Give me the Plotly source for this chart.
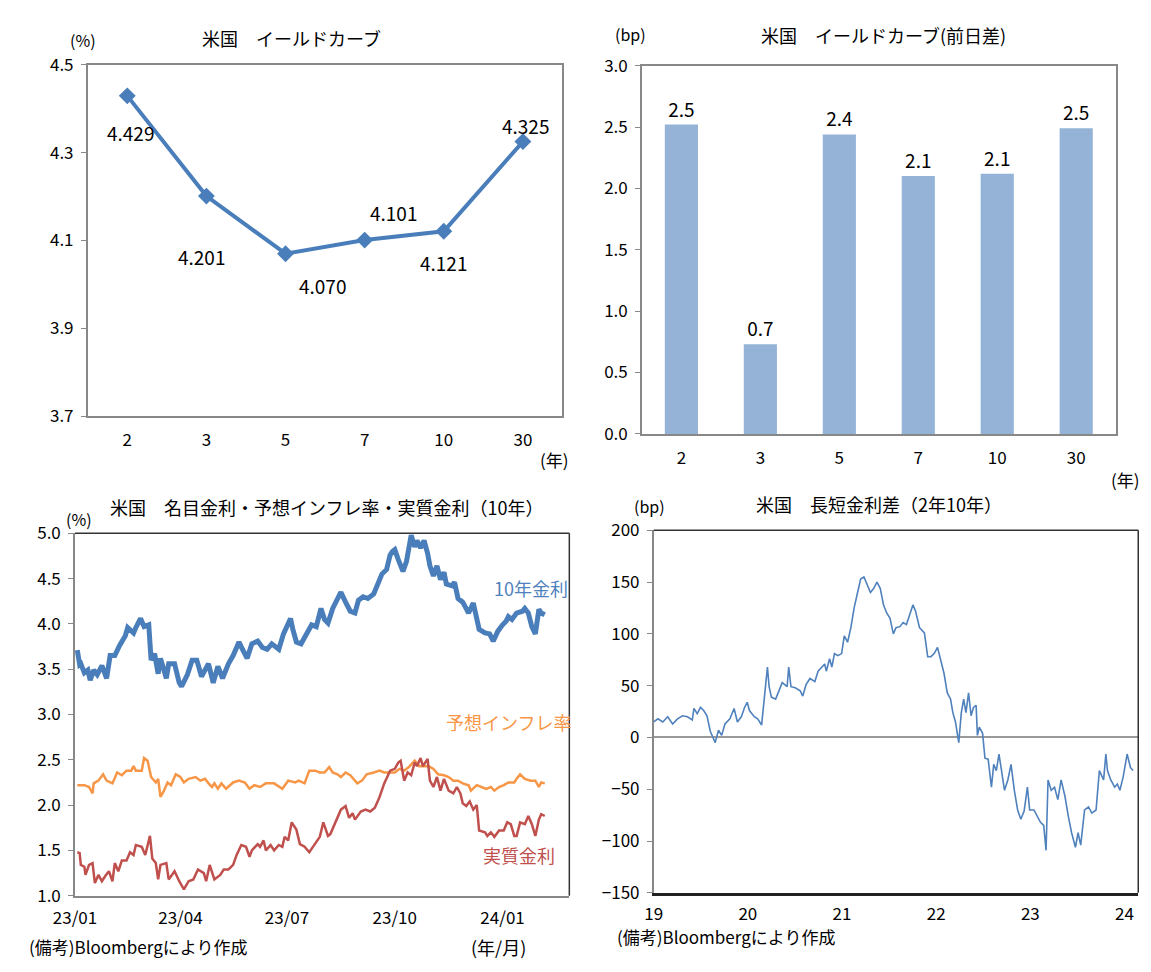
import pandas as pd
import plotly.graph_objects as go

# ---------------- data ----------------
# Top-left: US yield curve (%)
maturities = ["2", "3", "5", "7", "10", "30"]
yields = [4.429, 4.201, 4.070, 4.101, 4.121, 4.325]

# Top-right: change from previous day (bp)
changes_bp = [2.52, 0.73, 2.44, 2.10, 2.12, 2.49]

# Bottom-left: 10y nominal / breakeven / real (days since 2023-01-01)
nom_days = [2, 4, 5, 8, 11, 13, 16, 19, 23, 27, 30, 34, 38, 43, 45, 50, 52, 56, 59, 63,
            65, 68, 71, 73, 78, 80, 85, 89, 91, 96, 100, 104, 108, 114, 118, 122, 126, 131,
            135, 140, 143, 147, 151, 156, 160, 164, 168, 174, 178, 184, 186, 189, 193, 198,
            202, 206, 210, 213, 216, 220, 224, 227, 231, 235, 239, 242, 246, 250, 255, 259,
            262, 266, 269, 271, 273, 276, 280, 283, 287, 290, 292, 295, 298, 301, 303, 306,
            309, 312, 315, 317, 322, 324, 327, 331, 336, 340, 343, 345, 350, 354, 357, 361,
            365, 368, 370, 373, 377, 382, 384, 387, 390, 393, 396, 398, 401]
nom_vals = [3.71, 3.55, 3.56, 3.46, 3.49, 3.38, 3.49, 3.44, 3.54, 3.40, 3.65, 3.65, 3.76, 3.87,
            3.96, 3.90, 3.96, 4.06, 3.97, 3.99, 3.60, 3.67, 3.45, 3.62, 3.40, 3.56, 3.56, 3.35,
            3.31, 3.44, 3.60, 3.60, 3.42, 3.56, 3.35, 3.53, 3.40, 3.56,
            3.65, 3.80, 3.72, 3.62, 3.78, 3.81, 3.74, 3.72, 3.78, 3.72, 3.89, 4.06, 3.94, 3.80,
            3.78, 3.89, 3.99, 3.97, 4.17, 4.05, 4.01, 4.17, 4.26, 4.35, 4.24, 4.14, 4.12, 4.26,
            4.30, 4.28, 4.33, 4.46, 4.55, 4.60, 4.76, 4.80, 4.82, 4.71, 4.58, 4.69, 4.98, 4.85,
            4.92, 4.84, 4.92, 4.78, 4.64, 4.53, 4.64, 4.49, 4.57, 4.44, 4.42, 4.46, 4.28, 4.24,
            4.12, 4.23, 4.06, 3.94, 3.90, 3.89, 3.81, 3.92, 3.99, 4.03, 4.08, 4.05, 4.12, 4.14,
            4.17, 4.12, 3.97, 3.89, 4.16, 4.12, 4.10]

bei_days = [2, 8, 12, 15, 16, 20, 24, 27, 32, 36, 40, 44, 48, 50, 52, 57, 59, 62, 65, 69,
            71, 73, 76, 79, 82, 86, 90, 93, 97, 103, 107, 111, 114, 117, 119, 122, 125, 129,
            135, 140, 145, 149, 153, 158, 163, 170, 177, 182, 188, 191, 196, 200, 205, 209,
            213, 217, 220, 224, 227, 231, 235, 241, 245, 249, 255, 260, 264, 269,
            273, 277, 281, 285, 290, 294, 298, 302, 306, 310, 315, 319, 323, 327, 331, 336,
            338, 343, 347, 351, 355, 358, 362, 366, 370, 375, 377, 380, 384, 389, 393, 396,
            398, 401]
bei_vals = [2.22, 2.22, 2.20, 2.13, 2.24, 2.27, 2.34, 2.27, 2.24, 2.36, 2.33, 2.38, 2.38, 2.43,
            2.38, 2.38, 2.52, 2.49, 2.31, 2.25, 2.29, 2.09, 2.16, 2.25, 2.22, 2.34, 2.31, 2.25,
            2.29, 2.31, 2.27, 2.29, 2.24, 2.20, 2.24, 2.18, 2.24, 2.18,
            2.25, 2.27, 2.25, 2.18, 2.22, 2.20, 2.24, 2.24, 2.18, 2.27, 2.25, 2.27, 2.24, 2.38,
            2.38, 2.36, 2.36, 2.42, 2.36, 2.34, 2.31, 2.36, 2.33, 2.24, 2.27, 2.34, 2.36, 2.38,
            2.36, 2.36,
            2.36, 2.40, 2.38, 2.42, 2.49, 2.43, 2.43, 2.43, 2.40, 2.34, 2.33, 2.31, 2.27, 2.27,
            2.24, 2.22, 2.16, 2.22, 2.20, 2.18, 2.20, 2.16, 2.20, 2.22, 2.25, 2.25, 2.29, 2.34,
            2.29, 2.27, 2.27, 2.20, 2.25, 2.24]

real_days = [2, 4, 5, 8, 9, 12, 15, 17, 20, 23, 26, 29, 32, 34, 37, 40, 44, 47, 50, 52,
             57, 60, 64, 66, 69, 71, 73, 78, 80, 85, 89, 93, 97, 101, 105, 110, 112, 115,
             119, 124, 127, 131,
             135, 138, 142, 146, 149, 151, 156, 158, 161, 163, 167, 170, 174, 177, 179, 182,
             185, 189, 192, 196, 200, 205, 209, 212, 216, 218, 223, 227, 231, 234, 237, 239,
             244, 248, 252, 256, 260, 264, 269,
             273, 276, 278, 281, 284, 287, 290, 292, 295, 297, 301, 303, 306, 309, 312, 315,
             319, 323, 326, 329, 331, 334, 337, 340, 343, 345, 350, 352, 355, 358, 362, 366,
             369, 372, 375, 377, 380, 384, 387, 390, 393, 396, 398, 401]
real_vals = [1.48, 1.47, 1.34, 1.32, 1.23, 1.34, 1.36, 1.14, 1.23, 1.16, 1.22, 1.27, 1.16, 1.36,
             1.27, 1.39, 1.39, 1.48, 1.45, 1.56, 1.54, 1.45, 1.66, 1.41, 1.36, 1.18, 1.34, 1.36,
             1.18, 1.27, 1.16, 1.07, 1.16, 1.18, 1.29, 1.25, 1.16, 1.34, 1.18, 1.23, 1.29, 1.29,
             1.34, 1.45, 1.56, 1.54, 1.43, 1.50, 1.57, 1.54, 1.61, 1.50, 1.56, 1.50, 1.56, 1.54,
             1.65, 1.61, 1.81, 1.73, 1.57, 1.54, 1.48, 1.57, 1.65, 1.81, 1.66, 1.68, 1.82, 1.95,
             1.99, 1.86, 1.91, 1.84, 1.93, 1.95, 1.93, 1.97, 2.09, 2.24, 2.38,
             2.40, 2.47, 2.49, 2.27, 2.36, 2.33, 2.47, 2.43, 2.52, 2.43, 2.51, 2.27, 2.20, 2.31,
             2.16, 2.29, 2.16, 2.13, 2.20, 2.13, 2.02, 1.99, 2.04, 1.95, 2.00, 1.72, 1.70, 1.66,
             1.70, 1.65, 1.72, 1.72, 1.81, 1.79, 1.66, 1.66, 1.81, 1.79, 1.88, 1.79, 1.66, 1.84,
             1.90, 1.88]

# Bottom-right: 2y-10y spread (bp); x = year (19 = 2019)
spread_years = [19.000, 19.045, 19.097, 19.149, 19.201, 19.253, 19.306, 19.358, 19.410, 19.427,
                19.462, 19.497, 19.531, 19.566, 19.601, 19.635, 19.653, 19.688, 19.722, 19.757,
                19.809, 19.854, 19.889, 19.931, 19.965, 19.993, 20.017, 20.069, 20.104, 20.146,
                20.174, 20.208, 20.226, 20.250, 20.295, 20.330, 20.365, 20.417, 20.434, 20.458,
                20.503, 20.556, 20.583, 20.618, 20.660, 20.677, 20.712, 20.746, 20.781, 20.816,
                20.833, 20.868, 20.892, 20.920, 20.955, 20.996, 21.024, 21.059, 21.094, 21.128,
                21.163, 21.198, 21.233, 21.267, 21.302, 21.337, 21.371, 21.406, 21.441, 21.476,
                21.510, 21.545, 21.573, 21.615, 21.649, 21.684, 21.719, 21.753, 21.781, 21.823,
                21.875, 21.910, 21.944, 21.979, 22.014, 22.049, 22.083, 22.118, 22.153, 22.177,
                22.205, 22.240, 22.267, 22.292, 22.316, 22.344, 22.371, 22.396, 22.424, 22.438,
                22.458, 22.493, 22.518, 22.552, 22.587, 22.611, 22.639, 22.667, 22.702, 22.726,
                22.761, 22.795, 22.830, 22.865, 22.899, 22.934, 22.969, 22.993, 23.038, 23.073,
                23.108, 23.142, 23.167, 23.188, 23.222, 23.257, 23.292, 23.327, 23.368, 23.403,
                23.438, 23.479, 23.507, 23.535, 23.576, 23.618, 23.653, 23.698, 23.733, 23.778,
                23.802, 23.819, 23.854, 23.896, 23.924, 23.951, 23.986, 24.028, 24.063, 24.090]
spread_bp = [15, 18, 15, 20, 13, 18, 21, 20, 17, 28,
             23, 29, 26, 21, 6, -1, -5, 7, 2, 13,
             18, 28, 15, 20, 29, 34, 26, 20, 18, 12,
             35, 68, 49, 39, 37, 46, 53, 49, 68, 49,
             48, 45, 40, 51, 57, 56, 54, 64, 68, 71,
             64, 76, 68, 81, 79, 81, 98, 92, 106, 125,
             139, 153, 155, 147, 140, 144, 150, 144, 128, 120,
             115, 100, 106, 107, 111, 109, 118, 128, 122, 106,
             101, 78, 78, 81, 87, 75, 62, 43, 37, 24,
             15, -5, 24, 37, 24, 43, 21, 29, 31, 2,
             10, 4, -20, -21, -48, -26, -32, -16, -38, -51,
             -41, -26, -51, -70, -79, -71, -48, -70, -70, -76,
             -82, -85, -109, -41, -51, -48, -60, -41, -57, -76,
             -92, -106, -92, -104, -70, -67, -73, -70, -32, -41,
             -16, -32, -41, -48, -45, -51, -38, -16, -29, -32]

# ---------------- styling helpers ----------------
W, H = 1151, 972
FONT = "Noto Sans CJK JP"


def px(x):
    return x / W


def py(y):
    return 1 - y / H


nom_dates = pd.Timestamp("2023-01-01") + pd.to_timedelta(nom_days, unit="D")
bei_dates = pd.Timestamp("2023-01-01") + pd.to_timedelta(bei_days, unit="D")
real_dates = pd.Timestamp("2023-01-01") + pd.to_timedelta(real_days, unit="D")

fig = go.Figure()

# Top-left line
fig.add_trace(go.Scatter(
    x=maturities, y=yields, mode="lines+markers",
    line=dict(color="#4A7EBB", width=4),
    marker=dict(symbol="diamond", size=13, color="#4A7EBB"),
    xaxis="x", yaxis="y", cliponaxis=False, hoverinfo="skip"))
label_offsets = [(3, -37), (-5, -60), (37, -32), (29, 28), (0, -31), (3, 16)]
for i, (v, (dx, dy)) in enumerate(zip(yields, label_offsets)):
    fig.add_annotation(x=i, y=v, xref="x", yref="y", text=f"{v:.3f}", showarrow=False,
                       xshift=dx, yshift=dy, font=dict(family=FONT, size=19, color="#000"))

# Top-right bars
fig.add_trace(go.Bar(
    x=maturities, y=changes_bp, marker=dict(color="#95B3D7", line=dict(width=0)),
    text=[f"{v:.1f}" for v in changes_bp], textposition="outside",
    textfont=dict(family=FONT, size=19, color="#000"), cliponaxis=False,
    xaxis="x2", yaxis="y2", hoverinfo="skip"))

# Bottom-left lines
fig.add_trace(go.Scatter(x=nom_dates, y=nom_vals, mode="lines",
                         line=dict(color="#4A7EBB", width=5), xaxis="x3", yaxis="y3"))
fig.add_trace(go.Scatter(x=bei_dates, y=bei_vals, mode="lines",
                         line=dict(color="#F79646", width=2.5), xaxis="x3", yaxis="y3"))
fig.add_trace(go.Scatter(x=real_dates, y=real_vals, mode="lines",
                         line=dict(color="#C0504D", width=2.5), xaxis="x3", yaxis="y3"))

# Bottom-right spread
fig.add_trace(go.Scatter(x=spread_years, y=spread_bp, mode="lines",
                         line=dict(color="#4F81BD", width=1.6), xaxis="x4", yaxis="y4"))

tickfont = dict(family=FONT, size=17, color="#000")
frame = "#888888"

common_y = dict(showgrid=False, ticks="outside", ticklen=5, tickcolor=frame, showline=True,
                linecolor=frame, linewidth=1.5, tickfont=tickfont, zeroline=False,
                ticklabelstandoff=4)
common_x = dict(showgrid=False, ticks="", showline=True, linecolor=frame, linewidth=1.5,
                tickfont=tickfont, zeroline=False)

fig.update_layout(
    width=W, height=H, margin=dict(l=0, r=0, t=0, b=0),
    paper_bgcolor="white", plot_bgcolor="white", showlegend=False,
    bargap=0.58,
    font=dict(family=FONT, color="#000"),
    xaxis=dict(domain=[px(67), px(551)], anchor="y", type="category", range=[-0.5, 5.5],
               mirror=True, ticklabelstandoff=7, **common_x),
    yaxis=dict(domain=[py(413), py(52)], anchor="x", range=[3.7, 4.5], dtick=0.2, tick0=3.7,
               tickformat=".1f", mirror=True, **common_y),
    xaxis2=dict(domain=[px(632), px(1115)], anchor="y2", type="category", range=[-0.5, 5.5],
                mirror=True, ticklabelstandoff=8, **common_x),
    yaxis2=dict(domain=[py(431), py(53)], anchor="x2", range=[0, 3], dtick=0.5,
                tickformat=".1f", mirror=True, **common_y),
    xaxis3=dict(domain=[px(54), px(558)], anchor="y3", type="date",
                range=["2023-01-01", "2024-02-27"],
                tickvals=["2023-01-01", "2023-04-01", "2023-07-01", "2023-10-01", "2024-01-01"],
                tickformat="%y/%m", ticklabelstandoff=6, **common_x),
    yaxis3=dict(domain=[py(905), py(533)], anchor="x3", range=[1, 5], dtick=0.5,
                tickformat=".1f", **common_y),
    xaxis4=dict(domain=[px(644), px(1138)], anchor="y4", range=[19, 24.146], dtick=1,
                tick0=19, ticklabelstandoff=4,
                **{**common_x, "linecolor": "#222", "linewidth": 2.5}),
    yaxis4=dict(domain=[py(902), py(530)], anchor="x4", range=[-150, 200], dtick=50,
                **{**common_y, "zeroline": True, "zerolinecolor": "#999", "zerolinewidth": 1.5}),
)

# dark top/right frames for bottom charts
for xr, yr in (("x3", "y3"), ("x4", "y4")):
    fig.add_shape(type="line", xref=f"{xr} domain", yref=f"{yr} domain", x0=0, x1=1, y0=1, y1=1,
                  line=dict(color="#333", width=1.5))
    fig.add_shape(type="line", xref=f"{xr} domain", yref=f"{yr} domain", x0=1, x1=1, y0=0, y1=1,
                  line=dict(color="#333", width=1.5))


def note(text, x, y, size=18, color="#000", xanchor="center"):
    fig.add_annotation(text=text, x=px(x), y=py(y), xref="paper", yref="paper",
                       showarrow=False, xanchor=xanchor, yanchor="middle",
                       font=dict(family=FONT, size=size, color=color))


# Top-left texts
note("米国　イールドカーブ", 275, 25)
note("(%)", 62, 27, 16)
note("(年)", 543, 457, 17)
# Top-right texts
note("米国　イールドカーブ(前日差)", 878, 22)
note("(bp)", 620, 21, 16)
note("(年)", 1125, 478, 17)
# Bottom-left texts
note("米国　名目金利・予想インフレ率・実質金利（10年）", 310, 506)
note("(%)", 58, 518, 16)
note("10年金利", 519, 589, 18, "#4F81BD")
note("予想インフレ率", 496, 727, 18, "#F79646")
note("実質金利", 507, 863, 18, "#C0504D")
note("(備考)Bloombergにより作成", 5, 957, 17, xanchor="left")
note("(年/月)", 486, 958, 18)
# Bottom-right texts
note("米国　長短金利差（2年10年）", 874, 503)
note("(bp)", 640, 505, 16)
note("(備考)Bloombergにより作成", 605, 947, 17, xanchor="left")

fig.write_html("out.html",
               post_script="document.body.style.margin='0';document.body.style.overflow='hidden';")
